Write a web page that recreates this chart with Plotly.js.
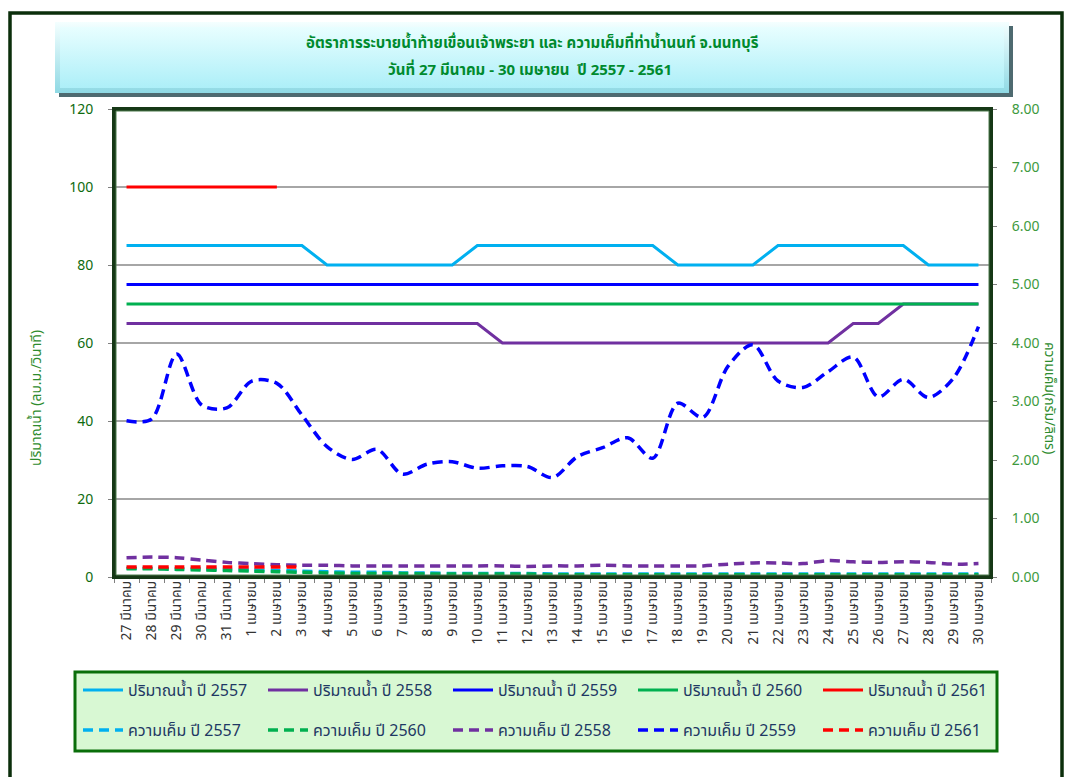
<!DOCTYPE html>
<html>
<head>
<meta charset="utf-8">
<script src="https://cdn.plot.ly/plotly-3.0.1.min.js"></script>
<style>html,body{margin:0;padding:0;background:#fff;}#chart{width:1065px;height:777px;}</style>
</head>
<body>
<div id="chart"></div>
<script>
const categories = ['27 มีนาคม','28 มีนาคม','29 มีนาคม','30 มีนาคม','31 มีนาคม',
  '1 เมษายน','2 เมษายน','3 เมษายน','4 เมษายน','5 เมษายน','6 เมษายน','7 เมษายน','8 เมษายน','9 เมษายน','10 เมษายน',
  '11 เมษายน','12 เมษายน','13 เมษายน','14 เมษายน','15 เมษายน','16 เมษายน','17 เมษายน','18 เมษายน','19 เมษายน','20 เมษายน',
  '21 เมษายน','22 เมษายน','23 เมษายน','24 เมษายน','25 เมษายน','26 เมษายน','27 เมษายน','28 เมษายน','29 เมษายน','30 เมษายน'];

const water2557 = [85,85,85,85,85,85,85,85,80,80,80,80,80,80,85,85,85,85,85,85,85,85,80,80,80,80,85,85,85,85,85,85,80,80,80];
const water2558 = [65,65,65,65,65,65,65,65,65,65,65,65,65,65,65,60,60,60,60,60,60,60,60,60,60,60,60,60,60,65,65,70,70,70,70];
const water2559 = [75,75,75,75,75,75,75,75,75,75,75,75,75,75,75,75,75,75,75,75,75,75,75,75,75,75,75,75,75,75,75,75,75,75,75];
const water2560 = [70,70,70,70,70,70,70,70,70,70,70,70,70,70,70,70,70,70,70,70,70,70,70,70,70,70,70,70,70,70,70,70,70,70,70];
const water2561 = [100,100,100,100,100,100,100];

const sal2557 = [0.15,0.15,0.14,0.14,0.13,0.12,0.11,0.10,0.09,0.08,0.08,0.07,0.07,0.06,0.06,0.06,0.06,0.05,0.05,0.05,0.05,0.05,0.05,0.05,0.05,0.05,0.05,0.05,0.05,0.05,0.05,0.05,0.05,0.05,0.05];
const sal2560 = [0.14,0.14,0.13,0.12,0.11,0.10,0.09,0.08,0.07,0.06,0.06,0.06,0.05,0.05,0.05,0.05,0.05,0.04,0.04,0.04,0.04,0.04,0.04,0.04,0.04,0.04,0.04,0.04,0.04,0.04,0.04,0.04,0.04,0.04,0.04];
const sal2558 = [0.33,0.34,0.33,0.29,0.25,0.23,0.21,0.20,0.20,0.19,0.19,0.19,0.19,0.19,0.19,0.19,0.18,0.19,0.19,0.20,0.19,0.19,0.19,0.19,0.22,0.24,0.24,0.23,0.28,0.26,0.25,0.26,0.25,0.22,0.23];
const sal2559 = [2.67,2.70,3.81,2.94,2.89,3.35,3.31,2.77,2.23,2.01,2.18,1.76,1.93,1.97,1.86,1.90,1.89,1.70,2.06,2.21,2.38,2.03,2.97,2.73,3.60,3.97,3.35,3.24,3.51,3.76,3.08,3.38,3.07,3.40,4.28];
const sal2561 = [0.17,0.17,0.17,0.17,0.17,0.17,0.17,0.17];

const FONT = "Tahoma, 'Noto Sans Thai', 'Noto Sans', 'DejaVu Sans', sans-serif";
const C = {lb:'#00B0F0', pu:'#7030A0', bl:'#0000FF', gr:'#00B050', rd:'#FF0000'};

function wl(name, y, color){
  return {x: categories.slice(0, y.length), y: y, name: name, type:'scatter', mode:'lines',
    line:{color:color, width:3}, legend:'legend', hoverinfo:'skip'};
}
function sl(name, y, color){
  return {x: categories.slice(0, y.length), y: y, name: name, type:'scatter', mode:'lines', yaxis:'y2',
    line:{color:color, width:3.5, dash:'10px,6px', shape:'spline', smoothing:0.9}, legend:'legend2', hoverinfo:'skip'};
}

const traces = [
  wl('ปริมาณน้ำ ปี 2557', water2557, C.lb),
  wl('ปริมาณน้ำ ปี 2558', water2558, C.pu),
  wl('ปริมาณน้ำ ปี 2559', water2559, C.bl),
  wl('ปริมาณน้ำ ปี 2560', water2560, C.gr),
  wl('ปริมาณน้ำ ปี 2561', water2561, C.rd),
  sl('ความเค็ม ปี 2557', sal2557, C.lb),
  sl('ความเค็ม ปี 2560', sal2560, C.gr),
  sl('ความเค็ม ปี 2558', sal2558, C.pu),
  sl('ความเค็ม ปี 2559', sal2559, C.bl),
  sl('ความเค็ม ปี 2561', sal2561, C.rd)
];

// plot area in px
const L = 114, T = 109, W = 877, H = 468;
const px = v => (v - L) / W;
const py = v => (T + H - v) / H;

const svg = "<svg xmlns='http://www.w3.org/2000/svg' width='960' height='76' viewBox='0 0 960 76'>" +
 "<defs><linearGradient id='g' x1='0' y1='0' x2='0' y2='1'><stop offset='0' stop-color='#E8FEFF'/><stop offset='1' stop-color='#ADEFF8'/></linearGradient>" +
 "<linearGradient id='e' x1='0' y1='0' x2='0' y2='1'><stop offset='0' stop-color='#F4FFFF'/><stop offset='1' stop-color='#8FD9E4'/></linearGradient></defs>" +
 "<rect x='4' y='4' width='954' height='71' fill='#4E6A70'/>" +
 "<rect x='0' y='0' width='954' height='71' fill='url(#e)'/>" +
 "<rect x='5' y='5' width='944' height='61' fill='url(#g)'/>" +
 "</svg>";

const legendCommon = {orientation:'h', xanchor:'left', yanchor:'middle', bgcolor:'rgba(0,0,0,0)',
    entrywidth:130, itemwidth:40, font:{family:FONT, size:16, color:'#1F3864'}};

const layout = {
  width:1065, height:777,
  margin:{l:L, r:1065-L-W, t:T, b:777-T-H},
  paper_bgcolor:'#FFFFFF', plot_bgcolor:'#FFFFFF',
  font:{family:FONT, size:13, color:'#333'},
  showlegend:true,
  xaxis:{type:'category', range:[-0.5,34.5], tickangle:-90, ticks:'outside', tickson:'boundaries',
    ticklen:5, tickcolor:'#808080', showgrid:false, zeroline:false, showline:false,
    tickfont:{family:FONT, size:14, color:'#333333'}, fixedrange:true},
  yaxis:{range:[0,120], dtick:20, ticks:'outside', ticklen:5, tickcolor:'#808080', ticklabelstandoff:12,
    showgrid:true, gridcolor:'#A6A6A6', gridwidth:1.5, zeroline:false, showline:false,
    tickfont:{family:FONT, size:14, color:'#0E6B0E'}},
  yaxis2:{overlaying:'y', side:'right', range:[0,8], dtick:1, tickformat:'.2f', ticks:'outside', ticklen:5,
    tickcolor:'#808080', ticklabelstandoff:12, showgrid:false, zeroline:false, showline:false,
    tickfont:{family:FONT, size:14, color:'#3E9A3E'}},
  legend:Object.assign({x:px(78), y:py(690)}, legendCommon),
  legend2:Object.assign({x:px(78), y:py(730)}, legendCommon),
  images:[{source:'data:image/svg+xml;charset=utf-8,' + encodeURIComponent(svg), xref:'paper', yref:'paper',
    x:px(55), y:py(22), sizex:960/W, sizey:76/H, xanchor:'left', yanchor:'top', sizing:'stretch', layer:'below'}],
  shapes:[
    {type:'rect', xref:'paper', yref:'paper', x0:px(10), x1:px(1062), y0:py(790), y1:py(13), line:{color:'#0B2E0B', width:3.5}},
    {type:'rect', xref:'paper', yref:'paper', x0:px(75), x1:px(997), y0:py(751), y1:py(672), fillcolor:'#D8F8D3', line:{color:'#0A6E0A', width:3}, layer:'below'},
    {type:'rect', xref:'paper', yref:'paper', x0:0, x1:1, y0:0, y1:1, line:{color:'#163816', width:4}},
    {type:'rect', xref:'paper', yref:'paper', x0:px(L+2), x1:px(L+W-2), y0:py(T+H-2), y1:py(T+2), line:{color:'#4C7A4C', width:1}}
  ],
  annotations:[
    {text:'<b>อัตราการระบายน้ำท้ายเขื่อนเจ้าพระยา และ ความเค็มที่ท่าน้ำนนท์ จ.นนทบุรี</b>', xref:'paper', yref:'paper',
      x:px(532), y:py(43), xanchor:'center', yanchor:'middle', showarrow:false, font:{family:FONT, size:15, color:'#008A2E'}},
    {text:'<b>วันที่ 27 มีนาคม - 30 เมษายน  ปี 2557 - 2561</b>', xref:'paper', yref:'paper',
      x:px(530), y:py(70), xanchor:'center', yanchor:'middle', showarrow:false, font:{family:FONT, size:15, color:'#008A2E'}},
    {text:'ปริมาณน้ำ (ลบ.ม./วินาที)', xref:'paper', yref:'paper', x:px(36), y:py(398), xanchor:'center', yanchor:'middle', textangle:-90,
      showarrow:false, font:{family:FONT, size:14, color:'#2E8B2E'}},
    {text:'ความเค็ม(กรัม/ลิตร)', xref:'paper', yref:'paper', x:px(1050), y:py(398), xanchor:'center', yanchor:'middle', textangle:90,
      showarrow:false, font:{family:FONT, size:14, color:'#2E8B2E'}}
  ]
};

Plotly.newPlot('chart', traces, layout, {displayModeBar:false, staticPlot:true});
</script>
</body>
</html>
